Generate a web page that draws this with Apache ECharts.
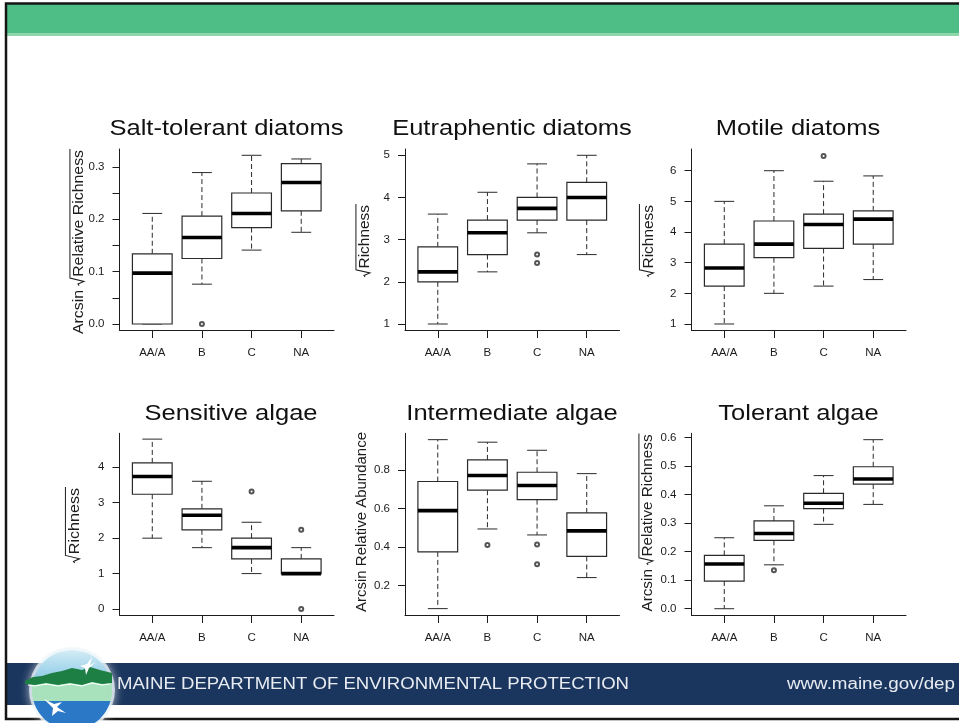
<!DOCTYPE html>
<html>
<head>
<meta charset="utf-8">
<title>Diatom and algae metrics by stream class</title>
<script src="https://cdn.jsdelivr.net/npm/echarts@6/dist/echarts.min.js"></script>
<style>
  html, body { margin: 0; padding: 0; background: #ffffff; }
  #chart { width: 959px; height: 723px; }
</style>
</head>
<body>
<div id="chart"></div>
<script>
// ---- categories -------------------------------------------------------
const categories = ['AA/A', 'B', 'C', 'NA'];

// ---- box statistics: [lower whisker, Q1, median, Q3, upper whisker] ----
const saltTolerant = [
  [0.000, 0.000, 0.097, 0.134, 0.211],
  [0.076, 0.125, 0.165, 0.206, 0.289],
  [0.141, 0.184, 0.211, 0.250, 0.322],
  [0.175, 0.216, 0.270, 0.306, 0.315]
];
const saltTolerantOutliers = [[2, 0.000]];

const eutraphentic = [
  [1.000, 2.000, 2.236, 2.828, 3.606],
  [2.236, 2.646, 3.162, 3.464, 4.123],
  [3.162, 3.464, 3.742, 4.000, 4.796],
  [2.646, 3.464, 4.000, 4.359, 5.000]
];
const eutraphenticOutliers = [[3, 2.646], [3, 2.449]];

const motile = [
  [1.000, 2.236, 2.828, 3.606, 5.000],
  [2.000, 3.162, 3.606, 4.359, 6.000],
  [2.236, 3.464, 4.243, 4.583, 5.657],
  [2.449, 3.606, 4.420, 4.690, 5.830]
];
const motileOutliers = [[3, 6.480]];

const sensitive = [
  [2.000, 3.240, 3.742, 4.123, 4.796],
  [1.732, 2.236, 2.646, 2.828, 3.606],
  [1.000, 1.414, 1.732, 2.000, 2.449],
  [1.000, 1.000, 1.000, 1.414, 1.732]
];
const sensitiveOutliers = [[3, 3.317], [4, 2.236], [4, 0.000]];

const intermediate = [
  [0.081, 0.375, 0.589, 0.740, 0.957],
  [0.494, 0.695, 0.771, 0.852, 0.944],
  [0.463, 0.646, 0.719, 0.788, 0.902],
  [0.242, 0.352, 0.484, 0.577, 0.781]
];
const intermediateOutliers = [[2, 0.411], [3, 0.414], [3, 0.311]];

const tolerant = [
  [0.000, 0.097, 0.157, 0.187, 0.249],
  [0.154, 0.240, 0.264, 0.308, 0.361],
  [0.296, 0.351, 0.370, 0.405, 0.467],
  [0.366, 0.437, 0.455, 0.498, 0.593]
];
const tolerantOutliers = [[2, 0.135]];

// ---- tick marks and tick labels --------------------------------------
const saltTicks = [0, 0.05, 0.1, 0.15, 0.2, 0.25, 0.3];
const saltLabels = [0, 0.1, 0.2, 0.3];
const eutraphenticTicks = [1, 2, 3, 4, 5];
const motileTicks = [1, 2, 3, 4, 5, 6];
const sensitiveTicks = [0, 1, 2, 3, 4];
const intermediateTicks = [0.2, 0.4, 0.6, 0.8];
const tolerantTicks = [0, 0.1, 0.2, 0.3, 0.4, 0.5, 0.6];

// ---- panel text ------------------------------------------------------
const panelTitles = ['Salt-tolerant diatoms', 'Eutraphentic diatoms', 'Motile diatoms',
                     'Sensitive algae', 'Intermediate algae', 'Tolerant algae'];
// [text before the radical, text under the radical]
const yTitles = [
  ['Arcsin ', 'Relative Richness'],
  ['', 'Richness'],
  ['', 'Richness'],
  ['', 'Richness'],
  ['Arcsin Relative Abundance', null],
  ['Arcsin ', 'Relative Richness']
];
const footerName = 'MAINE DEPARTMENT OF ENVIRONMENTAL PROTECTION';
const footerUrl = 'www.maine.gov/dep';

// ---- panel assembly --------------------------------------------------
const panels = [
  { stats: saltTolerant, outliers: saltTolerantOutliers, ticks: saltTicks, labels: saltLabels, dec: 1 },
  { stats: eutraphentic, outliers: eutraphenticOutliers, ticks: eutraphenticTicks, labels: eutraphenticTicks, dec: 0 },
  { stats: motile, outliers: motileOutliers, ticks: motileTicks, labels: motileTicks, dec: 0 },
  { stats: sensitive, outliers: sensitiveOutliers, ticks: sensitiveTicks, labels: sensitiveTicks, dec: 0 },
  { stats: intermediate, outliers: intermediateOutliers, ticks: intermediateTicks, labels: intermediateTicks, dec: 1 },
  { stats: tolerant, outliers: tolerantOutliers, ticks: tolerantTicks, labels: tolerantTicks, dec: 1 }
];

// plot-region geometry and value ranges (R-style 4% padding)
const layout = [
  { left: 119.5, top: 149,   width: 214.5, height: 181,   ymin: -0.0115, ymax: 0.334, tx: 226.5, ty: 129, yx: 79,    yy: 242,   ylen: 184 },
  { left: 405,   top: 149,   width: 214.5, height: 181,   ymin: 0.858,   ymax: 5.149, tx: 512,   ty: 129, yx: 365,   yy: 241,   ylen: 72 },
  { left: 691.5, top: 149,   width: 214.5, height: 181,   ymin: 0.804,   ymax: 6.708, tx: 798,   ty: 129, yx: 648.5, yy: 241,   ylen: 72 },
  { left: 119.5, top: 433.3, width: 214.5, height: 181.7, ymin: -0.169,  ymax: 4.96,  tx: 231,   ty: 414, yx: 74.5,  yy: 525.5, ylen: 75 },
  { left: 405,   top: 433.3, width: 214.5, height: 181.7, ymin: 0.048,   ymax: 0.990, tx: 512,   ty: 414, yx: 361.5, yy: 522,   ylen: 180 },
  { left: 691.5, top: 433.3, width: 214.5, height: 181.7, ymin: -0.022,  ymax: 0.6154, tx: 798.5, ty: 414, yx: 648,  yy: 523,   ylen: 177 }
];

const FONT = '"Liberation Sans", Arial, Helvetica, sans-serif';
const INK = '#1c1c1c';

const measureCtx = document.createElement('canvas').getContext('2d');
function textWidth(str, font) {
  measureCtx.font = font;
  return measureCtx.measureText(str).width;
}

// R-style box: dashed whiskers, solid staples, heavy median
function renderBox(params, api) {
  const x = api.value(0);
  const lo = api.value(1), q1 = api.value(2), md = api.value(3), q3 = api.value(4), hi = api.value(5);
  const c = api.coord([x, md]);
  const cx = c[0];
  const half = api.coord([x + 0.4, md])[0] - cx;
  const cap = half / 2;
  const yLo = api.coord([x, lo])[1];
  const yQ1 = api.coord([x, q1])[1];
  const yQ3 = api.coord([x, q3])[1];
  const yHi = api.coord([x, hi])[1];
  const yMd = c[1];
  const thin = { stroke: '#2a2a2a', lineWidth: 1 };
  const dash = { stroke: '#2a2a2a', lineWidth: 1, lineDash: [5, 3] };
  const seg = (x1, y1, x2, y2, style) => ({ type: 'line', shape: { x1, y1, x2, y2 }, style });
  return {
    type: 'group',
    children: [
      seg(cx, yQ3, cx, yHi, dash),
      seg(cx, yQ1, cx, yLo, dash),
      seg(cx - cap, yHi, cx + cap, yHi, thin),
      seg(cx - cap, yLo, cx + cap, yLo, thin),
      { type: 'rect', shape: { x: cx - half, y: yQ3, width: 2 * half, height: yQ1 - yQ3 },
        style: { fill: '#ffffff', stroke: '#2a2a2a', lineWidth: 1.2 } },
      seg(cx - half, yMd, cx + half, yMd, { stroke: '#000000', lineWidth: 3.6 })
    ]
  };
}

// rotated axis title with an optional drawn radical sign
function yTitleGroup(prefix, radicand, cx, cy, len) {
  const fs = 15;
  const font = fs + 'px ' + FONT;
  const wPre = prefix ? textWidth(prefix, font) : 0;
  const radW = radicand ? 0.55 * fs : 0;
  const wRad = radicand ? textWidth(radicand, font) : 0;
  const W = wPre + radW + wRad;
  const s = len / W;
  const x0 = -W / 2;
  const tStyle = (text) => ({ text, font, fill: INK, align: 'left', verticalAlign: 'middle',
                              textAlign: 'left', textVerticalAlign: 'middle' });
  const children = [];
  if (prefix) children.push({ type: 'text', x: x0, y: 0, style: tStyle(prefix) });
  if (radicand) {
    const xr = x0 + wPre;
    const yb = 0.31 * fs;
    const yt = -0.405 * fs - 3;
    children.push({
      type: 'polyline',
      shape: { points: [[xr, yb - 0.30 * fs], [xr + 0.1 * fs, yb - 0.38 * fs], [xr + 0.26 * fs, yb + 0.02 * fs],
                        [xr + 0.47 * fs, yt], [xr + radW + wRad + 1, yt]] },
      style: { stroke: INK, lineWidth: 1, fill: null }
    });
    children.push({ type: 'text', x: xr + radW, y: 0, style: tStyle(radicand) });
  }
  return { type: 'group', x: cx, y: cy, rotation: Math.PI / 2, scaleX: s, children };
}

// circle slice between two horizontal lines, used for the emblem
function circleBand(cx, cy, r, y1, y2) {
  const a = Math.max(y1, cy - r), b = Math.min(y2, cy + r);
  const pts = [];
  const n = 16;
  for (let i = 0; i <= n; i++) {
    const y = a + (b - a) * i / n;
    pts.push([cx + Math.sqrt(Math.max(0, r * r - (y - cy) * (y - cy))), y]);
  }
  for (let i = n; i >= 0; i--) {
    const y = a + (b - a) * i / n;
    pts.push([cx - Math.sqrt(Math.max(0, r * r - (y - cy) * (y - cy))), y]);
  }
  return pts;
}

const grids = [], xAxes = [], yAxes = [], series = [];
panels.forEach((p, i) => {
  const L = layout[i];
  grids.push({ left: L.left, top: L.top, width: L.width, height: L.height, containLabel: false, outerBoundsMode: 'none' });
  xAxes.push({
    type: 'value', gridIndex: i, min: 0.34, max: 4.66,
    axisLine: { show: true, onZero: false, lineStyle: { color: INK, width: 1 } },
    axisTick: { show: true, length: 8, customValues: [1, 2, 3, 4], lineStyle: { color: INK, width: 1 } },
    axisLabel: { show: true, customValues: [1, 2, 3, 4], margin: 17, fontSize: 11.5, fontFamily: FONT, color: INK,
                 formatter: (v) => categories[Math.round(v) - 1] },
    splitLine: { show: false }
  });
  yAxes.push({
    type: 'value', gridIndex: i, min: L.ymin, max: L.ymax,
    axisLine: { show: true, onZero: false, lineStyle: { color: INK, width: 1 } },
    axisTick: { show: true, length: 7, customValues: p.ticks, lineStyle: { color: INK, width: 1 } },
    axisLabel: { show: true, customValues: p.labels, margin: 15, fontSize: 11.5, fontFamily: FONT, color: INK,
                 formatter: (v) => Number(v).toFixed(p.dec) },
    splitLine: { show: false }
  });
  series.push({
    type: 'custom', xAxisIndex: i, yAxisIndex: i, silent: true, z: 3,
    renderItem: renderBox,
    encode: { x: 0, y: [1, 2, 3, 4, 5] },
    data: p.stats.map((s, k) => [k + 1].concat(s))
  });
  series.push({
    type: 'scatter', xAxisIndex: i, yAxisIndex: i, silent: true, z: 4,
    symbol: 'emptyCircle', symbolSize: 4,
    itemStyle: { color: '#2a2a2a', borderColor: '#2a2a2a', borderWidth: 1 },
    data: p.outliers
  });
});

// ---- slide furniture ---------------------------------------------------
const graphics = [];
// header band
graphics.push({ type: 'rect', z: 0, shape: { x: 7, y: 4, width: 952, height: 29 }, style: { fill: '#4fbe86' } });
graphics.push({ type: 'rect', z: 0, shape: { x: 7, y: 33, width: 952, height: 3 }, style: { fill: '#8dd6ab' } });
// footer band
graphics.push({ type: 'rect', z: 0, shape: { x: 7, y: 663, width: 952, height: 42 }, style: { fill: '#1b365e' } });
// slide frame
graphics.push({ type: 'polyline', z: 1, shape: { points: [[959, 3.5], [6, 3.5], [6, 719], [959, 719]] },
                style: { stroke: '#151515', lineWidth: 2.5, fill: null } });

// footer texts
const footFont = '16px ' + FONT;
graphics.push({ type: 'text', z: 2, x: 117, y: 685, scaleX: 512 / textWidth(footerName, footFont),
  style: { text: footerName, font: footFont, fill: '#e8ecf2', align: 'left', verticalAlign: 'middle',
           textAlign: 'left', textVerticalAlign: 'middle' } });
graphics.push({ type: 'text', z: 2, x: 955, y: 685, scaleX: 168 / textWidth(footerUrl, footFont),
  style: { text: footerUrl, font: footFont, fill: '#e8ecf2', align: 'right', verticalAlign: 'middle',
           textAlign: 'right', textVerticalAlign: 'middle' } });

// emblem
const ecx = 72, ecy = 690, er = 40;
graphics.push({ type: 'circle', z: 2, shape: { cx: ecx, cy: ecy, r: er + 3 },
  style: { fill: 'rgba(235,245,250,0.75)', shadowBlur: 10, shadowColor: 'rgba(255,255,255,0.9)' } });
graphics.push({ type: 'polygon', z: 3, shape: { points: circleBand(ecx, ecy, er, 640, 680) },
  style: { fill: new echarts.graphic.LinearGradient(0, 0, 0, 1, [{ offset: 0, color: '#d4ecf6' }, { offset: 1, color: '#8ccbe6' }]) } });
graphics.push({ type: 'polygon', z: 3, shape: { points: circleBand(ecx, ecy, er, 681, 702) }, style: { fill: '#a8e2bc' } });
graphics.push({ type: 'polygon', z: 3, shape: { points: circleBand(ecx, ecy, er, 701, 740) }, style: { fill: '#2b79c6' } });
graphics.push({ type: 'polygon', z: 4, shape: { points: [
    [25, 681], [33, 677], [42, 676], [52, 673], [62, 671], [72, 668], [82, 670], [90, 667], [100, 670], [112, 673],
    [112, 683], [102, 684], [92, 682], [82, 685], [70, 683], [58, 685], [46, 683], [35, 685], [25, 684]] },
  style: { fill: '#1d7f44' } });
graphics.push({ type: 'polyline', z: 5, shape: { points: [[28, 685], [35, 686], [46, 684], [58, 686], [70, 684], [82, 686], [92, 683], [102, 685], [110, 684]] },
  style: { stroke: '#ffffff', lineWidth: 1.2, fill: null } });
// birds
graphics.push({ type: 'polygon', z: 5, shape: { points: [[80, 666], [87, 664], [92, 657], [90, 665], [96, 662], [89, 668], [86, 675], [85, 668]] },
  style: { fill: '#ffffff' } });
graphics.push({ type: 'polygon', z: 5, shape: { points: [[44, 699], [54, 704], [62, 702], [57, 707], [66, 713], [58, 711], [52, 716], [53, 708]] },
  style: { fill: '#ffffff' } });

// panel titles and axis titles
layout.forEach((L, i) => {
  graphics.push({ type: 'text', z: 5, x: L.tx, y: L.ty, scaleX: 1.16,
    style: { text: panelTitles[i], font: '22px ' + FONT, fill: '#111111', align: 'center', verticalAlign: 'middle',
             textAlign: 'center', textVerticalAlign: 'middle' } });
  const g = yTitleGroup(yTitles[i][0], yTitles[i][1], L.yx, L.yy, L.ylen);
  g.z = 5;
  graphics.push(g);
});

const chart = echarts.init(document.getElementById('chart'), null, { renderer: 'canvas', width: 959, height: 723 });
chart.setOption({
  backgroundColor: '#ffffff',
  animation: false,
  grid: grids,
  xAxis: xAxes,
  yAxis: yAxes,
  series: series,
  graphic: { elements: graphics }
});
</script>
</body>
</html>
